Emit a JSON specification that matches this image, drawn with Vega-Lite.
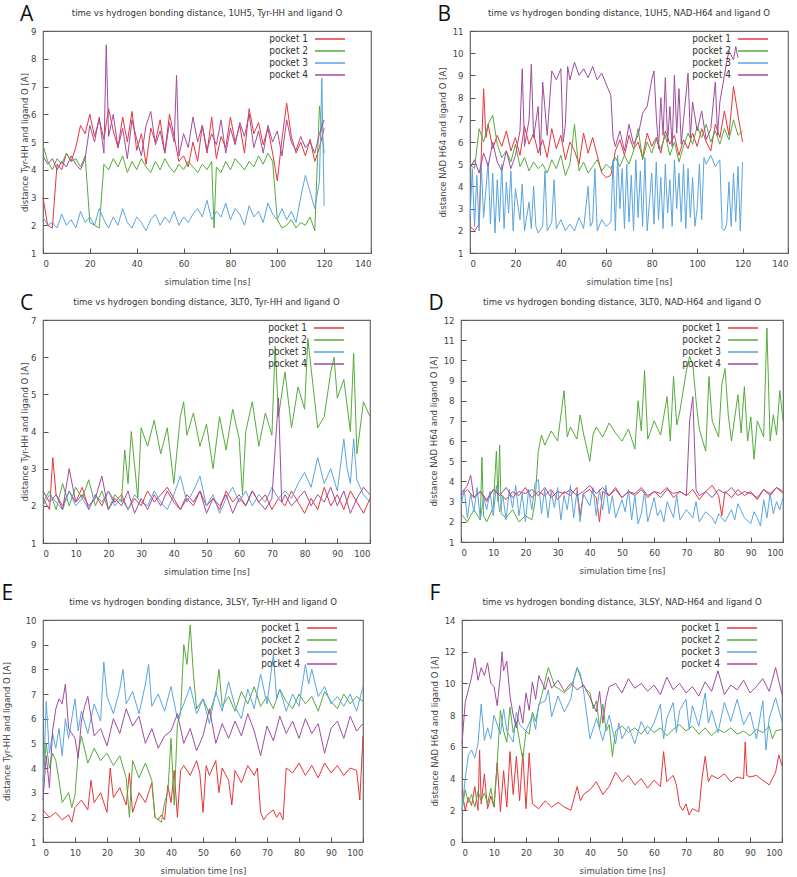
{
"$schema": "https://vega.github.io/schema/vega-lite/v6.json",
"background": "white",
"padding": {"left": 0, "top": 3, "right": 0, "bottom": 2},
"config": {
 "font": "DejaVu Sans Condensed, DejaVu Sans",
 "view": {"stroke": "#666666", "strokeWidth": 1.2},
 "axis": {"grid": false, "domain": false, "tickColor": "#555555", "tickSize": -5, "labelColor": "#444444", "labelFontSize": 9.5, "titleColor": "#444444", "titleFontSize": 9.5, "titleFontWeight": "normal"},
 "axisX": {"labelPadding": 10, "titlePadding": 9},
 "axisY": {"labelPadding": 12, "titlePadding": 5},
 "title": {"fontSize": 9.5, "fontWeight": "normal", "color": "#333333", "offset": 9},
 "legend": {"orient": "none", "padding": 0, "direction": "vertical", "symbolType": "M-3,0H3", "symbolSize": 100, "symbolStrokeWidth": 1.5, "labelFontSize": 10, "labelColor": "#333333", "rowPadding": 1}
},
"resolve": {"scale": {"color": "independent"}, "legend": {"color": "independent"}},
"spacing": 5,
"datasets": {
"A": [
{"s":1,"t":0,"v":3.0},{"s":1,"t":2,"v":2.0},{"s":1,"t":4,"v":1.9},{"s":1,"t":6,"v":4.2},{"s":1,"t":8,"v":4.0},{"s":1,"t":10,"v":4.6},{"s":1,"t":12,"v":4.3},{"s":1,"t":14,"v":4.8},{"s":1,"t":16,"v":5.6},{"s":1,"t":18,"v":5.3},{"s":1,"t":20,"v":6.0},{"s":1,"t":22,"v":5.2},{"s":1,"t":24,"v":5.8},{"s":1,"t":26,"v":5.1},{"s":1,"t":28,"v":6.2},{"s":1,"t":30,"v":5.4},{"s":1,"t":32,"v":4.8},{"s":1,"t":34,"v":5.9},{"s":1,"t":36,"v":5.0},{"s":1,"t":38,"v":6.1},{"s":1,"t":40,"v":4.7},{"s":1,"t":42,"v":5.3},{"s":1,"t":44,"v":4.2},{"s":1,"t":46,"v":5.5},{"s":1,"t":48,"v":5.0},{"s":1,"t":50,"v":5.8},{"s":1,"t":52,"v":4.6},{"s":1,"t":54,"v":6.0},{"s":1,"t":56,"v":5.2},{"s":1,"t":58,"v":4.3},{"s":1,"t":60,"v":4.5},{"s":1,"t":62,"v":4.1},{"s":1,"t":64,"v":5.0},{"s":1,"t":66,"v":4.3},{"s":1,"t":68,"v":5.6},{"s":1,"t":70,"v":4.6},{"s":1,"t":72,"v":5.9},{"s":1,"t":74,"v":4.4},{"s":1,"t":76,"v":5.2},{"s":1,"t":78,"v":4.8},{"s":1,"t":80,"v":5.9},{"s":1,"t":82,"v":5.0},{"s":1,"t":84,"v":5.6},{"s":1,"t":86,"v":4.6},{"s":1,"t":88,"v":6.2},{"s":1,"t":90,"v":5.3},{"s":1,"t":92,"v":5.7},{"s":1,"t":94,"v":4.9},{"s":1,"t":96,"v":5.5},{"s":1,"t":98,"v":4.6},{"s":1,"t":100,"v":3.6},{"s":1,"t":102,"v":5.1},{"s":1,"t":104,"v":6.4},{"s":1,"t":106,"v":5.2},{"s":1,"t":108,"v":4.6},{"s":1,"t":110,"v":5.0},{"s":1,"t":112,"v":4.5},{"s":1,"t":114,"v":5.1},{"s":1,"t":116,"v":4.3},{"s":1,"t":118,"v":4.8},{"s":1,"t":120,"v":5.5},
{"s":2,"t":0,"v":4.9},{"s":2,"t":2,"v":4.3},{"s":2,"t":4,"v":4.0},{"s":2,"t":6,"v":4.4},{"s":2,"t":8,"v":4.2},{"s":2,"t":10,"v":4.6},{"s":2,"t":12,"v":4.3},{"s":2,"t":14,"v":4.4},{"s":2,"t":16,"v":4.1},{"s":2,"t":18,"v":4.5},{"s":2,"t":20,"v":2.1},{"s":2,"t":22,"v":2.0},{"s":2,"t":24,"v":1.9},{"s":2,"t":26,"v":4.2},{"s":2,"t":28,"v":4.0},{"s":2,"t":30,"v":4.4},{"s":2,"t":32,"v":4.1},{"s":2,"t":34,"v":4.5},{"s":2,"t":36,"v":3.9},{"s":2,"t":38,"v":4.3},{"s":2,"t":40,"v":4.0},{"s":2,"t":42,"v":4.4},{"s":2,"t":44,"v":4.1},{"s":2,"t":46,"v":3.9},{"s":2,"t":48,"v":4.3},{"s":2,"t":50,"v":4.0},{"s":2,"t":52,"v":4.4},{"s":2,"t":54,"v":4.1},{"s":2,"t":56,"v":3.9},{"s":2,"t":58,"v":4.2},{"s":2,"t":60,"v":4.0},{"s":2,"t":62,"v":4.3},{"s":2,"t":64,"v":4.1},{"s":2,"t":66,"v":3.9},{"s":2,"t":68,"v":4.2},{"s":2,"t":70,"v":4.0},{"s":2,"t":72,"v":4.3},{"s":2,"t":73,"v":1.9},{"s":2,"t":74,"v":4.1},{"s":2,"t":76,"v":3.9},{"s":2,"t":78,"v":4.3},{"s":2,"t":80,"v":4.0},{"s":2,"t":82,"v":4.4},{"s":2,"t":84,"v":4.2},{"s":2,"t":86,"v":4.0},{"s":2,"t":88,"v":4.3},{"s":2,"t":90,"v":4.1},{"s":2,"t":92,"v":4.5},{"s":2,"t":94,"v":4.2},{"s":2,"t":96,"v":4.6},{"s":2,"t":98,"v":4.3},{"s":2,"t":100,"v":2.2},{"s":2,"t":102,"v":1.9},{"s":2,"t":104,"v":2.0},{"s":2,"t":106,"v":2.2},{"s":2,"t":108,"v":1.9},{"s":2,"t":110,"v":2.1},{"s":2,"t":112,"v":2.0},{"s":2,"t":114,"v":2.3},{"s":2,"t":116,"v":1.8},{"s":2,"t":118,"v":6.3},{"s":2,"t":120,"v":4.6},
{"s":3,"t":0,"v":2.3},{"s":3,"t":2,"v":2.0},{"s":3,"t":4,"v":2.1},{"s":3,"t":6,"v":1.9},{"s":3,"t":8,"v":2.4},{"s":3,"t":10,"v":2.0},{"s":3,"t":12,"v":2.2},{"s":3,"t":14,"v":1.9},{"s":3,"t":16,"v":2.5},{"s":3,"t":18,"v":2.1},{"s":3,"t":20,"v":2.3},{"s":3,"t":22,"v":2.0},{"s":3,"t":24,"v":2.6},{"s":3,"t":26,"v":2.2},{"s":3,"t":28,"v":1.9},{"s":3,"t":30,"v":2.3},{"s":3,"t":32,"v":2.0},{"s":3,"t":34,"v":2.6},{"s":3,"t":36,"v":2.1},{"s":3,"t":38,"v":1.9},{"s":3,"t":40,"v":2.3},{"s":3,"t":42,"v":2.1},{"s":3,"t":44,"v":1.8},{"s":3,"t":46,"v":2.2},{"s":3,"t":48,"v":2.4},{"s":3,"t":50,"v":2.0},{"s":3,"t":52,"v":2.3},{"s":3,"t":54,"v":2.1},{"s":3,"t":56,"v":2.5},{"s":3,"t":58,"v":2.0},{"s":3,"t":60,"v":2.3},{"s":3,"t":62,"v":2.1},{"s":3,"t":64,"v":2.4},{"s":3,"t":66,"v":2.6},{"s":3,"t":68,"v":2.3},{"s":3,"t":70,"v":2.9},{"s":3,"t":72,"v":2.2},{"s":3,"t":74,"v":2.5},{"s":3,"t":76,"v":2.3},{"s":3,"t":78,"v":2.8},{"s":3,"t":80,"v":2.2},{"s":3,"t":82,"v":2.6},{"s":3,"t":84,"v":2.4},{"s":3,"t":86,"v":2.0},{"s":3,"t":88,"v":2.7},{"s":3,"t":90,"v":2.3},{"s":3,"t":92,"v":2.5},{"s":3,"t":94,"v":2.1},{"s":3,"t":96,"v":2.8},{"s":3,"t":98,"v":2.4},{"s":3,"t":100,"v":2.2},{"s":3,"t":102,"v":2.6},{"s":3,"t":104,"v":2.2},{"s":3,"t":106,"v":2.5},{"s":3,"t":108,"v":2.1},{"s":3,"t":110,"v":3.0},{"s":3,"t":112,"v":3.8},{"s":3,"t":114,"v":3.2},{"s":3,"t":116,"v":2.6},{"s":3,"t":118,"v":3.6},{"s":3,"t":119,"v":7.3},{"s":3,"t":120,"v":2.7},
{"s":4,"t":0,"v":4.5},{"s":4,"t":2,"v":4.2},{"s":4,"t":4,"v":4.4},{"s":4,"t":6,"v":4.0},{"s":4,"t":8,"v":4.3},{"s":4,"t":10,"v":4.1},{"s":4,"t":12,"v":4.5},{"s":4,"t":14,"v":4.2},{"s":4,"t":16,"v":4.0},{"s":4,"t":18,"v":4.4},{"s":4,"t":20,"v":5.6},{"s":4,"t":22,"v":5.0},{"s":4,"t":24,"v":5.9},{"s":4,"t":26,"v":4.6},{"s":4,"t":27,"v":8.5},{"s":4,"t":28,"v":5.2},{"s":4,"t":30,"v":6.0},{"s":4,"t":32,"v":4.8},{"s":4,"t":34,"v":5.5},{"s":4,"t":36,"v":4.4},{"s":4,"t":38,"v":5.8},{"s":4,"t":40,"v":5.1},{"s":4,"t":42,"v":4.5},{"s":4,"t":44,"v":5.6},{"s":4,"t":46,"v":6.1},{"s":4,"t":48,"v":4.9},{"s":4,"t":50,"v":5.4},{"s":4,"t":52,"v":4.6},{"s":4,"t":54,"v":5.7},{"s":4,"t":56,"v":5.0},{"s":4,"t":57,"v":7.4},{"s":4,"t":58,"v":4.5},{"s":4,"t":60,"v":5.3},{"s":4,"t":62,"v":4.8},{"s":4,"t":64,"v":5.9},{"s":4,"t":66,"v":5.0},{"s":4,"t":68,"v":5.6},{"s":4,"t":70,"v":4.7},{"s":4,"t":72,"v":5.3},{"s":4,"t":74,"v":4.9},{"s":4,"t":76,"v":5.8},{"s":4,"t":78,"v":4.6},{"s":4,"t":80,"v":5.5},{"s":4,"t":82,"v":4.9},{"s":4,"t":84,"v":5.7},{"s":4,"t":86,"v":5.2},{"s":4,"t":88,"v":6.0},{"s":4,"t":90,"v":4.8},{"s":4,"t":92,"v":5.4},{"s":4,"t":94,"v":4.6},{"s":4,"t":96,"v":5.6},{"s":4,"t":98,"v":5.0},{"s":4,"t":100,"v":5.4},{"s":4,"t":102,"v":4.5},{"s":4,"t":104,"v":5.8},{"s":4,"t":106,"v":5.0},{"s":4,"t":108,"v":4.7},{"s":4,"t":110,"v":5.2},{"s":4,"t":112,"v":4.8},{"s":4,"t":114,"v":5.0},{"s":4,"t":116,"v":4.6},{"s":4,"t":118,"v":5.3},{"s":4,"t":120,"v":5.8}
],
"B": [
{"s":1,"t":0,"v":2.2},{"s":1,"t":2,"v":2.0},{"s":1,"t":4,"v":2.3},{"s":1,"t":5,"v":5.5},{"s":1,"t":6,"v":8.4},{"s":1,"t":7,"v":6.2},{"s":1,"t":8,"v":6.8},{"s":1,"t":10,"v":5.7},{"s":1,"t":12,"v":6.3},{"s":1,"t":14,"v":5.8},{"s":1,"t":16,"v":6.5},{"s":1,"t":18,"v":5.6},{"s":1,"t":20,"v":6.2},{"s":1,"t":22,"v":5.4},{"s":1,"t":24,"v":6.7},{"s":1,"t":26,"v":5.9},{"s":1,"t":28,"v":6.4},{"s":1,"t":30,"v":5.5},{"s":1,"t":32,"v":6.1},{"s":1,"t":34,"v":5.3},{"s":1,"t":36,"v":6.6},{"s":1,"t":38,"v":5.7},{"s":1,"t":40,"v":6.3},{"s":1,"t":42,"v":5.2},{"s":1,"t":44,"v":6.0},{"s":1,"t":46,"v":5.6},{"s":1,"t":48,"v":5.0},{"s":1,"t":50,"v":6.4},{"s":1,"t":52,"v":5.5},{"s":1,"t":54,"v":6.2},{"s":1,"t":56,"v":5.4},{"s":1,"t":58,"v":4.6},{"s":1,"t":60,"v":4.4},{"s":1,"t":62,"v":4.5},{"s":1,"t":64,"v":5.6},{"s":1,"t":66,"v":6.1},{"s":1,"t":68,"v":5.4},{"s":1,"t":70,"v":6.3},{"s":1,"t":72,"v":5.7},{"s":1,"t":74,"v":6.0},{"s":1,"t":76,"v":5.3},{"s":1,"t":78,"v":6.4},{"s":1,"t":80,"v":5.8},{"s":1,"t":82,"v":6.2},{"s":1,"t":84,"v":5.5},{"s":1,"t":86,"v":6.5},{"s":1,"t":88,"v":5.9},{"s":1,"t":90,"v":6.3},{"s":1,"t":92,"v":5.4},{"s":1,"t":94,"v":6.1},{"s":1,"t":96,"v":5.7},{"s":1,"t":98,"v":6.4},{"s":1,"t":100,"v":5.8},{"s":1,"t":102,"v":6.6},{"s":1,"t":104,"v":6.0},{"s":1,"t":106,"v":5.6},{"s":1,"t":108,"v":6.8},{"s":1,"t":110,"v":6.2},{"s":1,"t":112,"v":7.4},{"s":1,"t":114,"v":6.3},{"s":1,"t":116,"v":8.5},{"s":1,"t":118,"v":7.2},{"s":1,"t":120,"v":6.0},
{"s":2,"t":0,"v":5.0},{"s":2,"t":2,"v":4.8},{"s":2,"t":4,"v":6.6},{"s":2,"t":6,"v":6.0},{"s":2,"t":8,"v":6.8},{"s":2,"t":10,"v":7.2},{"s":2,"t":12,"v":5.9},{"s":2,"t":14,"v":5.3},{"s":2,"t":16,"v":5.6},{"s":2,"t":18,"v":5.1},{"s":2,"t":20,"v":5.9},{"s":2,"t":22,"v":4.9},{"s":2,"t":24,"v":5.3},{"s":2,"t":26,"v":4.7},{"s":2,"t":28,"v":5.1},{"s":2,"t":30,"v":4.8},{"s":2,"t":32,"v":5.0},{"s":2,"t":34,"v":4.6},{"s":2,"t":36,"v":5.2},{"s":2,"t":38,"v":4.8},{"s":2,"t":40,"v":5.4},{"s":2,"t":42,"v":4.5},{"s":2,"t":44,"v":5.0},{"s":2,"t":46,"v":6.8},{"s":2,"t":48,"v":4.7},{"s":2,"t":50,"v":5.1},{"s":2,"t":52,"v":4.6},{"s":2,"t":54,"v":4.9},{"s":2,"t":56,"v":5.2},{"s":2,"t":58,"v":4.7},{"s":2,"t":60,"v":5.0},{"s":2,"t":62,"v":4.8},{"s":2,"t":64,"v":5.3},{"s":2,"t":66,"v":4.9},{"s":2,"t":68,"v":5.4},{"s":2,"t":70,"v":5.0},{"s":2,"t":72,"v":5.6},{"s":2,"t":74,"v":6.6},{"s":2,"t":76,"v":5.2},{"s":2,"t":78,"v":6.0},{"s":2,"t":80,"v":5.5},{"s":2,"t":82,"v":6.1},{"s":2,"t":84,"v":5.7},{"s":2,"t":86,"v":6.3},{"s":2,"t":88,"v":5.4},{"s":2,"t":90,"v":6.0},{"s":2,"t":92,"v":5.1},{"s":2,"t":94,"v":5.8},{"s":2,"t":96,"v":6.4},{"s":2,"t":98,"v":5.9},{"s":2,"t":100,"v":6.7},{"s":2,"t":102,"v":6.2},{"s":2,"t":104,"v":6.8},{"s":2,"t":106,"v":6.0},{"s":2,"t":108,"v":6.5},{"s":2,"t":110,"v":5.9},{"s":2,"t":112,"v":6.6},{"s":2,"t":114,"v":6.1},{"s":2,"t":116,"v":7.0},{"s":2,"t":118,"v":6.3},{"s":2,"t":120,"v":6.5},
{"s":3,"t":0,"v":2.5},{"s":3,"t":1,"v":4.8},{"s":3,"t":2,"v":2.2},{"s":3,"t":3,"v":4.5},{"s":3,"t":4,"v":2.0},{"s":3,"t":5,"v":4.9},{"s":3,"t":6,"v":2.6},{"s":3,"t":8,"v":5.1},{"s":3,"t":9,"v":2.3},{"s":3,"t":10,"v":4.6},{"s":3,"t":11,"v":1.9},{"s":3,"t":12,"v":4.3},{"s":3,"t":13,"v":2.4},{"s":3,"t":14,"v":5.0},{"s":3,"t":15,"v":2.1},{"s":3,"t":16,"v":4.2},{"s":3,"t":17,"v":2.8},{"s":3,"t":18,"v":4.7},{"s":3,"t":19,"v":2.0},{"s":3,"t":20,"v":3.9},{"s":3,"t":22,"v":2.5},{"s":3,"t":23,"v":4.1},{"s":3,"t":24,"v":2.0},{"s":3,"t":26,"v":3.3},{"s":3,"t":27,"v":2.1},{"s":3,"t":28,"v":4.0},{"s":3,"t":29,"v":2.2},{"s":3,"t":30,"v":1.9},{"s":3,"t":32,"v":2.2},{"s":3,"t":33,"v":4.7},{"s":3,"t":34,"v":2.0},{"s":3,"t":36,"v":2.4},{"s":3,"t":37,"v":4.3},{"s":3,"t":38,"v":2.1},{"s":3,"t":40,"v":2.5},{"s":3,"t":42,"v":2.0},{"s":3,"t":44,"v":2.3},{"s":3,"t":46,"v":2.0},{"s":3,"t":48,"v":2.6},{"s":3,"t":50,"v":2.1},{"s":3,"t":52,"v":4.0},{"s":3,"t":53,"v":2.2},{"s":3,"t":54,"v":2.4},{"s":3,"t":55,"v":4.8},{"s":3,"t":56,"v":2.0},{"s":3,"t":58,"v":2.5},{"s":3,"t":60,"v":2.2},{"s":3,"t":62,"v":2.4},{"s":3,"t":63,"v":5.2},{"s":3,"t":64,"v":2.0},{"s":3,"t":65,"v":5.4},{"s":3,"t":66,"v":3.0},{"s":3,"t":67,"v":4.8},{"s":3,"t":68,"v":2.1},{"s":3,"t":69,"v":5.0},{"s":3,"t":70,"v":2.4},{"s":3,"t":71,"v":4.5},{"s":3,"t":72,"v":2.0},{"s":3,"t":73,"v":5.2},{"s":3,"t":74,"v":2.6},{"s":3,"t":75,"v":4.7},{"s":3,"t":76,"v":2.2},{"s":3,"t":77,"v":5.3},{"s":3,"t":78,"v":2.0},{"s":3,"t":80,"v":4.6},{"s":3,"t":81,"v":2.3},{"s":3,"t":82,"v":5.1},{"s":3,"t":83,"v":2.5},{"s":3,"t":84,"v":4.4},{"s":3,"t":85,"v":2.1},{"s":3,"t":86,"v":5.0},{"s":3,"t":87,"v":2.8},{"s":3,"t":88,"v":4.3},{"s":3,"t":89,"v":2.2},{"s":3,"t":90,"v":5.2},{"s":3,"t":91,"v":3.0},{"s":3,"t":92,"v":4.6},{"s":3,"t":93,"v":2.4},{"s":3,"t":94,"v":5.0},{"s":3,"t":95,"v":2.1},{"s":3,"t":96,"v":4.8},{"s":3,"t":97,"v":2.6},{"s":3,"t":98,"v":4.4},{"s":3,"t":99,"v":2.2},{"s":3,"t":100,"v":3.0},{"s":3,"t":101,"v":5.0},{"s":3,"t":102,"v":2.5},{"s":3,"t":103,"v":5.3},{"s":3,"t":104,"v":5.0},{"s":3,"t":106,"v":5.4},{"s":3,"t":108,"v":4.9},{"s":3,"t":110,"v":5.2},{"s":3,"t":111,"v":2.1},{"s":3,"t":112,"v":2.0},{"s":3,"t":113,"v":2.3},{"s":3,"t":114,"v":4.2},{"s":3,"t":115,"v":2.2},{"s":3,"t":116,"v":4.6},{"s":3,"t":117,"v":2.4},{"s":3,"t":118,"v":4.9},{"s":3,"t":119,"v":2.0},{"s":3,"t":120,"v":5.1},
{"s":4,"t":0,"v":4.8},{"s":4,"t":2,"v":5.2},{"s":4,"t":4,"v":4.6},{"s":4,"t":6,"v":5.5},{"s":4,"t":8,"v":4.9},{"s":4,"t":10,"v":6.0},{"s":4,"t":12,"v":5.1},{"s":4,"t":14,"v":4.7},{"s":4,"t":16,"v":5.6},{"s":4,"t":18,"v":4.8},{"s":4,"t":20,"v":5.4},{"s":4,"t":22,"v":6.5},{"s":4,"t":23,"v":9.3},{"s":4,"t":24,"v":5.8},{"s":4,"t":26,"v":7.0},{"s":4,"t":27,"v":9.5},{"s":4,"t":28,"v":6.2},{"s":4,"t":30,"v":7.6},{"s":4,"t":31,"v":5.4},{"s":4,"t":32,"v":8.7},{"s":4,"t":34,"v":6.3},{"s":4,"t":36,"v":9.2},{"s":4,"t":38,"v":8.8},{"s":4,"t":40,"v":9.3},{"s":4,"t":41,"v":6.0},{"s":4,"t":42,"v":6.8},{"s":4,"t":43,"v":9.4},{"s":4,"t":44,"v":8.8},{"s":4,"t":46,"v":9.6},{"s":4,"t":48,"v":9.0},{"s":4,"t":50,"v":9.3},{"s":4,"t":52,"v":8.9},{"s":4,"t":54,"v":9.4},{"s":4,"t":56,"v":8.8},{"s":4,"t":58,"v":9.1},{"s":4,"t":60,"v":8.6},{"s":4,"t":62,"v":8.1},{"s":4,"t":63,"v":6.2},{"s":4,"t":64,"v":5.8},{"s":4,"t":66,"v":6.5},{"s":4,"t":68,"v":5.6},{"s":4,"t":70,"v":6.8},{"s":4,"t":72,"v":5.9},{"s":4,"t":74,"v":6.3},{"s":4,"t":76,"v":7.3},{"s":4,"t":78,"v":7.6},{"s":4,"t":80,"v":8.8},{"s":4,"t":81,"v":9.2},{"s":4,"t":82,"v":7.2},{"s":4,"t":83,"v":5.7},{"s":4,"t":84,"v":8.0},{"s":4,"t":85,"v":6.3},{"s":4,"t":86,"v":8.9},{"s":4,"t":87,"v":6.0},{"s":4,"t":88,"v":7.6},{"s":4,"t":89,"v":5.8},{"s":4,"t":90,"v":9.0},{"s":4,"t":91,"v":6.4},{"s":4,"t":92,"v":8.4},{"s":4,"t":93,"v":5.9},{"s":4,"t":94,"v":7.0},{"s":4,"t":96,"v":9.1},{"s":4,"t":97,"v":6.2},{"s":4,"t":98,"v":7.8},{"s":4,"t":100,"v":6.5},{"s":4,"t":102,"v":7.4},{"s":4,"t":104,"v":6.1},{"s":4,"t":106,"v":6.6},{"s":4,"t":108,"v":8.7},{"s":4,"t":109,"v":6.3},{"s":4,"t":110,"v":7.8},{"s":4,"t":112,"v":9.0},{"s":4,"t":113,"v":9.6},{"s":4,"t":114,"v":10.1},{"s":4,"t":116,"v":9.7},{"s":4,"t":117,"v":10.3},{"s":4,"t":118,"v":9.8}
],
"C": [
{"s":1,"t":0,"v":2.2},{"s":1,"t":2,"v":1.9},{"s":1,"t":3,"v":3.3},{"s":1,"t":4,"v":2.3},{"s":1,"t":6,"v":2.0},{"s":1,"t":8,"v":2.4},{"s":1,"t":10,"v":2.1},{"s":1,"t":12,"v":2.5},{"s":1,"t":14,"v":1.9},{"s":1,"t":16,"v":2.3},{"s":1,"t":18,"v":2.0},{"s":1,"t":20,"v":2.4},{"s":1,"t":22,"v":2.1},{"s":1,"t":24,"v":2.3},{"s":1,"t":26,"v":1.9},{"s":1,"t":28,"v":2.2},{"s":1,"t":30,"v":2.0},{"s":1,"t":32,"v":2.4},{"s":1,"t":34,"v":2.1},{"s":1,"t":36,"v":2.3},{"s":1,"t":38,"v":2.5},{"s":1,"t":40,"v":2.2},{"s":1,"t":42,"v":1.9},{"s":1,"t":44,"v":2.3},{"s":1,"t":46,"v":2.1},{"s":1,"t":48,"v":2.4},{"s":1,"t":50,"v":2.0},{"s":1,"t":52,"v":2.2},{"s":1,"t":54,"v":1.9},{"s":1,"t":56,"v":2.4},{"s":1,"t":58,"v":2.1},{"s":1,"t":60,"v":2.3},{"s":1,"t":62,"v":2.0},{"s":1,"t":64,"v":2.4},{"s":1,"t":66,"v":2.1},{"s":1,"t":68,"v":2.3},{"s":1,"t":70,"v":1.9},{"s":1,"t":72,"v":2.2},{"s":1,"t":74,"v":2.0},{"s":1,"t":76,"v":2.4},{"s":1,"t":78,"v":2.1},{"s":1,"t":80,"v":1.8},{"s":1,"t":82,"v":2.2},{"s":1,"t":84,"v":1.9},{"s":1,"t":86,"v":2.5},{"s":1,"t":88,"v":2.0},{"s":1,"t":90,"v":2.3},{"s":1,"t":92,"v":1.9},{"s":1,"t":94,"v":2.4},{"s":1,"t":96,"v":2.1},{"s":1,"t":98,"v":1.8},{"s":1,"t":100,"v":2.2},
{"s":2,"t":0,"v":2.1},{"s":2,"t":2,"v":2.4},{"s":2,"t":4,"v":1.9},{"s":2,"t":6,"v":2.6},{"s":2,"t":8,"v":2.0},{"s":2,"t":10,"v":2.5},{"s":2,"t":12,"v":2.2},{"s":2,"t":14,"v":2.7},{"s":2,"t":16,"v":2.0},{"s":2,"t":18,"v":2.4},{"s":2,"t":20,"v":1.9},{"s":2,"t":22,"v":2.3},{"s":2,"t":24,"v":2.1},{"s":2,"t":25,"v":3.5},{"s":2,"t":26,"v":2.6},{"s":2,"t":27,"v":4.0},{"s":2,"t":28,"v":3.1},{"s":2,"t":29,"v":2.2},{"s":2,"t":30,"v":4.1},{"s":2,"t":32,"v":3.6},{"s":2,"t":34,"v":4.3},{"s":2,"t":36,"v":3.4},{"s":2,"t":38,"v":4.1},{"s":2,"t":40,"v":2.6},{"s":2,"t":42,"v":4.4},{"s":2,"t":43,"v":4.8},{"s":2,"t":44,"v":3.9},{"s":2,"t":46,"v":4.5},{"s":2,"t":48,"v":3.6},{"s":2,"t":50,"v":4.2},{"s":2,"t":52,"v":3.0},{"s":2,"t":54,"v":4.4},{"s":2,"t":56,"v":3.5},{"s":2,"t":58,"v":4.6},{"s":2,"t":60,"v":3.8},{"s":2,"t":61,"v":2.3},{"s":2,"t":62,"v":4.0},{"s":2,"t":64,"v":4.8},{"s":2,"t":66,"v":3.6},{"s":2,"t":68,"v":4.5},{"s":2,"t":70,"v":3.9},{"s":2,"t":71,"v":6.3},{"s":2,"t":72,"v":4.4},{"s":2,"t":74,"v":5.6},{"s":2,"t":76,"v":4.1},{"s":2,"t":78,"v":5.2},{"s":2,"t":80,"v":4.6},{"s":2,"t":81,"v":6.5},{"s":2,"t":82,"v":5.7},{"s":2,"t":84,"v":4.1},{"s":2,"t":86,"v":4.4},{"s":2,"t":88,"v":5.6},{"s":2,"t":89,"v":6.0},{"s":2,"t":90,"v":4.9},{"s":2,"t":92,"v":5.4},{"s":2,"t":94,"v":4.0},{"s":2,"t":95,"v":6.1},{"s":2,"t":96,"v":3.4},{"s":2,"t":98,"v":4.8},{"s":2,"t":100,"v":4.4},
{"s":3,"t":0,"v":2.0},{"s":3,"t":2,"v":2.3},{"s":3,"t":4,"v":2.1},{"s":3,"t":6,"v":1.9},{"s":3,"t":8,"v":2.4},{"s":3,"t":10,"v":2.0},{"s":3,"t":12,"v":2.2},{"s":3,"t":14,"v":1.9},{"s":3,"t":16,"v":2.3},{"s":3,"t":18,"v":2.1},{"s":3,"t":20,"v":2.4},{"s":3,"t":22,"v":2.0},{"s":3,"t":24,"v":2.2},{"s":3,"t":26,"v":1.9},{"s":3,"t":28,"v":2.3},{"s":3,"t":30,"v":2.1},{"s":3,"t":32,"v":2.0},{"s":3,"t":34,"v":2.4},{"s":3,"t":36,"v":2.1},{"s":3,"t":38,"v":1.9},{"s":3,"t":40,"v":2.3},{"s":3,"t":42,"v":2.8},{"s":3,"t":44,"v":2.1},{"s":3,"t":46,"v":2.4},{"s":3,"t":48,"v":2.8},{"s":3,"t":50,"v":2.0},{"s":3,"t":52,"v":2.3},{"s":3,"t":54,"v":1.8},{"s":3,"t":56,"v":2.2},{"s":3,"t":58,"v":2.5},{"s":3,"t":60,"v":2.1},{"s":3,"t":62,"v":2.4},{"s":3,"t":64,"v":2.0},{"s":3,"t":66,"v":2.3},{"s":3,"t":68,"v":2.1},{"s":3,"t":70,"v":2.5},{"s":3,"t":72,"v":2.2},{"s":3,"t":74,"v":2.4},{"s":3,"t":76,"v":2.2},{"s":3,"t":78,"v":2.6},{"s":3,"t":80,"v":2.9},{"s":3,"t":82,"v":2.5},{"s":3,"t":84,"v":3.3},{"s":3,"t":86,"v":2.6},{"s":3,"t":88,"v":3.0},{"s":3,"t":90,"v":2.4},{"s":3,"t":92,"v":3.8},{"s":3,"t":93,"v":3.0},{"s":3,"t":94,"v":2.6},{"s":3,"t":95,"v":3.8},{"s":3,"t":96,"v":2.7},{"s":3,"t":98,"v":2.3},{"s":3,"t":100,"v":2.1},
{"s":4,"t":0,"v":2.4},{"s":4,"t":2,"v":2.1},{"s":4,"t":4,"v":2.3},{"s":4,"t":6,"v":1.9},{"s":4,"t":8,"v":3.0},{"s":4,"t":10,"v":2.1},{"s":4,"t":12,"v":2.3},{"s":4,"t":14,"v":2.0},{"s":4,"t":16,"v":2.2},{"s":4,"t":18,"v":2.8},{"s":4,"t":20,"v":1.9},{"s":4,"t":22,"v":2.2},{"s":4,"t":24,"v":2.0},{"s":4,"t":26,"v":2.4},{"s":4,"t":28,"v":1.8},{"s":4,"t":30,"v":2.2},{"s":4,"t":32,"v":1.9},{"s":4,"t":34,"v":2.3},{"s":4,"t":36,"v":2.0},{"s":4,"t":38,"v":2.4},{"s":4,"t":40,"v":2.1},{"s":4,"t":42,"v":1.9},{"s":4,"t":44,"v":2.2},{"s":4,"t":46,"v":2.0},{"s":4,"t":48,"v":2.4},{"s":4,"t":50,"v":1.8},{"s":4,"t":52,"v":2.2},{"s":4,"t":54,"v":2.0},{"s":4,"t":56,"v":2.3},{"s":4,"t":58,"v":1.8},{"s":4,"t":60,"v":2.2},{"s":4,"t":62,"v":2.0},{"s":4,"t":64,"v":2.4},{"s":4,"t":66,"v":2.1},{"s":4,"t":68,"v":1.9},{"s":4,"t":70,"v":2.2},{"s":4,"t":72,"v":4.9},{"s":4,"t":73,"v":2.1},{"s":4,"t":74,"v":2.3},{"s":4,"t":76,"v":2.0},{"s":4,"t":78,"v":2.2},{"s":4,"t":80,"v":2.4},{"s":4,"t":82,"v":2.0},{"s":4,"t":84,"v":2.3},{"s":4,"t":86,"v":2.1},{"s":4,"t":88,"v":2.5},{"s":4,"t":90,"v":2.0},{"s":4,"t":92,"v":2.4},{"s":4,"t":94,"v":1.8},{"s":4,"t":96,"v":2.2},{"s":4,"t":98,"v":2.5},{"s":4,"t":100,"v":2.3}
],
"D": [
{"s":1,"t":0,"v":3.3},{"s":1,"t":2,"v":3.6},{"s":1,"t":4,"v":3.2},{"s":1,"t":6,"v":3.5},{"s":1,"t":8,"v":3.0},{"s":1,"t":10,"v":3.6},{"s":1,"t":12,"v":3.4},{"s":1,"t":14,"v":3.1},{"s":1,"t":16,"v":3.5},{"s":1,"t":18,"v":3.3},{"s":1,"t":20,"v":3.7},{"s":1,"t":22,"v":3.2},{"s":1,"t":24,"v":3.5},{"s":1,"t":26,"v":3.3},{"s":1,"t":28,"v":3.6},{"s":1,"t":30,"v":3.1},{"s":1,"t":32,"v":3.5},{"s":1,"t":34,"v":3.3},{"s":1,"t":36,"v":3.7},{"s":1,"t":37,"v":2.3},{"s":1,"t":38,"v":3.4},{"s":1,"t":40,"v":3.6},{"s":1,"t":42,"v":3.2},{"s":1,"t":43,"v":2.0},{"s":1,"t":44,"v":3.5},{"s":1,"t":46,"v":3.3},{"s":1,"t":48,"v":3.7},{"s":1,"t":50,"v":3.2},{"s":1,"t":52,"v":3.5},{"s":1,"t":54,"v":3.3},{"s":1,"t":56,"v":3.6},{"s":1,"t":58,"v":3.2},{"s":1,"t":60,"v":3.5},{"s":1,"t":62,"v":3.4},{"s":1,"t":64,"v":3.7},{"s":1,"t":66,"v":3.2},{"s":1,"t":68,"v":3.5},{"s":1,"t":70,"v":3.3},{"s":1,"t":72,"v":3.6},{"s":1,"t":74,"v":3.1},{"s":1,"t":76,"v":3.5},{"s":1,"t":78,"v":3.8},{"s":1,"t":80,"v":3.3},{"s":1,"t":81,"v":2.3},{"s":1,"t":82,"v":3.5},{"s":1,"t":84,"v":3.2},{"s":1,"t":86,"v":3.6},{"s":1,"t":88,"v":3.3},{"s":1,"t":90,"v":3.5},{"s":1,"t":92,"v":3.1},{"s":1,"t":94,"v":3.6},{"s":1,"t":96,"v":3.3},{"s":1,"t":98,"v":3.7},{"s":1,"t":100,"v":3.4},
{"s":2,"t":0,"v":2.4},{"s":2,"t":2,"v":2.0},{"s":2,"t":4,"v":2.6},{"s":2,"t":6,"v":2.1},{"s":2,"t":6.5,"v":5.2},{"s":2,"t":7,"v":2.3},{"s":2,"t":8,"v":2.0},{"s":2,"t":10,"v":2.7},{"s":2,"t":11,"v":5.5},{"s":2,"t":11.5,"v":3.0},{"s":2,"t":12,"v":5.8},{"s":2,"t":12.5,"v":2.4},{"s":2,"t":14,"v":2.2},{"s":2,"t":16,"v":2.6},{"s":2,"t":18,"v":2.0},{"s":2,"t":20,"v":2.3},{"s":2,"t":22,"v":2.1},{"s":2,"t":23,"v":3.0},{"s":2,"t":24,"v":5.5},{"s":2,"t":25,"v":6.3},{"s":2,"t":26,"v":5.8},{"s":2,"t":28,"v":6.5},{"s":2,"t":30,"v":6.0},{"s":2,"t":32,"v":8.5},{"s":2,"t":33,"v":6.2},{"s":2,"t":34,"v":6.7},{"s":2,"t":36,"v":6.1},{"s":2,"t":37,"v":7.3},{"s":2,"t":38,"v":6.4},{"s":2,"t":40,"v":5.0},{"s":2,"t":41,"v":6.3},{"s":2,"t":42,"v":6.7},{"s":2,"t":44,"v":6.2},{"s":2,"t":46,"v":6.9},{"s":2,"t":48,"v":6.4},{"s":2,"t":50,"v":6.0},{"s":2,"t":52,"v":6.6},{"s":2,"t":54,"v":5.6},{"s":2,"t":55,"v":8.0},{"s":2,"t":56,"v":6.5},{"s":2,"t":57,"v":9.5},{"s":2,"t":58,"v":6.1},{"s":2,"t":60,"v":7.0},{"s":2,"t":62,"v":6.3},{"s":2,"t":64,"v":8.2},{"s":2,"t":65,"v":6.0},{"s":2,"t":66,"v":9.2},{"s":2,"t":67,"v":6.8},{"s":2,"t":68,"v":7.5},{"s":2,"t":70,"v":9.5},{"s":2,"t":71,"v":10.2},{"s":2,"t":72,"v":9.8},{"s":2,"t":73,"v":8.0},{"s":2,"t":74,"v":6.6},{"s":2,"t":76,"v":5.5},{"s":2,"t":77,"v":9.2},{"s":2,"t":78,"v":7.0},{"s":2,"t":80,"v":6.2},{"s":2,"t":81,"v":8.8},{"s":2,"t":82,"v":9.6},{"s":2,"t":83,"v":7.3},{"s":2,"t":84,"v":6.0},{"s":2,"t":86,"v":8.3},{"s":2,"t":87,"v":6.4},{"s":2,"t":88,"v":8.7},{"s":2,"t":89,"v":6.0},{"s":2,"t":90,"v":7.2},{"s":2,"t":91,"v":5.1},{"s":2,"t":92,"v":7.0},{"s":2,"t":94,"v":6.2},{"s":2,"t":95,"v":11.6},{"s":2,"t":96,"v":6.0},{"s":2,"t":97,"v":7.3},{"s":2,"t":98,"v":6.3},{"s":2,"t":99,"v":8.5},{"s":2,"t":100,"v":7.0},
{"s":3,"t":0,"v":2.8},{"s":3,"t":1,"v":3.6},{"s":3,"t":2,"v":2.2},{"s":3,"t":3,"v":3.4},{"s":3,"t":4,"v":2.5},{"s":3,"t":5,"v":3.7},{"s":3,"t":6,"v":2.1},{"s":3,"t":7,"v":3.2},{"s":3,"t":8,"v":2.6},{"s":3,"t":9,"v":3.5},{"s":3,"t":10,"v":2.3},{"s":3,"t":11,"v":3.8},{"s":3,"t":12,"v":2.5},{"s":3,"t":13,"v":3.3},{"s":3,"t":14,"v":2.1},{"s":3,"t":15,"v":3.6},{"s":3,"t":16,"v":2.7},{"s":3,"t":17,"v":3.8},{"s":3,"t":18,"v":2.3},{"s":3,"t":19,"v":3.4},{"s":3,"t":20,"v":2.0},{"s":3,"t":21,"v":3.6},{"s":3,"t":22,"v":2.6},{"s":3,"t":23,"v":3.9},{"s":3,"t":24,"v":4.1},{"s":3,"t":25,"v":2.4},{"s":3,"t":26,"v":3.6},{"s":3,"t":27,"v":2.2},{"s":3,"t":28,"v":3.5},{"s":3,"t":29,"v":2.7},{"s":3,"t":30,"v":3.7},{"s":3,"t":31,"v":2.1},{"s":3,"t":32,"v":3.3},{"s":3,"t":33,"v":2.6},{"s":3,"t":34,"v":3.8},{"s":3,"t":35,"v":2.2},{"s":3,"t":36,"v":3.5},{"s":3,"t":37,"v":2.0},{"s":3,"t":38,"v":3.4},{"s":3,"t":40,"v":2.8},{"s":3,"t":41,"v":3.7},{"s":3,"t":42,"v":2.3},{"s":3,"t":43,"v":3.6},{"s":3,"t":44,"v":2.6},{"s":3,"t":45,"v":3.8},{"s":3,"t":46,"v":2.4},{"s":3,"t":47,"v":3.3},{"s":3,"t":48,"v":2.2},{"s":3,"t":50,"v":3.1},{"s":3,"t":51,"v":2.5},{"s":3,"t":52,"v":3.6},{"s":3,"t":53,"v":2.1},{"s":3,"t":54,"v":3.3},{"s":3,"t":55,"v":1.9},{"s":3,"t":56,"v":2.4},{"s":3,"t":57,"v":3.5},{"s":3,"t":58,"v":2.0},{"s":3,"t":60,"v":3.2},{"s":3,"t":61,"v":2.3},{"s":3,"t":62,"v":2.6},{"s":3,"t":63,"v":2.0},{"s":3,"t":64,"v":3.0},{"s":3,"t":66,"v":2.2},{"s":3,"t":67,"v":3.3},{"s":3,"t":68,"v":2.1},{"s":3,"t":70,"v":2.6},{"s":3,"t":72,"v":2.2},{"s":3,"t":73,"v":3.0},{"s":3,"t":74,"v":2.0},{"s":3,"t":76,"v":2.5},{"s":3,"t":78,"v":2.2},{"s":3,"t":79,"v":1.9},{"s":3,"t":80,"v":2.4},{"s":3,"t":82,"v":2.0},{"s":3,"t":84,"v":2.6},{"s":3,"t":85,"v":2.1},{"s":3,"t":86,"v":2.9},{"s":3,"t":88,"v":2.2},{"s":3,"t":90,"v":1.9},{"s":3,"t":91,"v":2.5},{"s":3,"t":92,"v":2.2},{"s":3,"t":93,"v":1.8},{"s":3,"t":94,"v":3.1},{"s":3,"t":95,"v":2.2},{"s":3,"t":96,"v":3.4},{"s":3,"t":97,"v":2.4},{"s":3,"t":98,"v":3.0},{"s":3,"t":99,"v":2.6},{"s":3,"t":100,"v":3.2},
{"s":4,"t":0,"v":3.4},{"s":4,"t":2,"v":3.8},{"s":4,"t":3,"v":4.3},{"s":4,"t":4,"v":3.2},{"s":4,"t":6,"v":3.5},{"s":4,"t":8,"v":3.1},{"s":4,"t":10,"v":3.6},{"s":4,"t":12,"v":3.3},{"s":4,"t":14,"v":3.7},{"s":4,"t":16,"v":3.2},{"s":4,"t":18,"v":3.5},{"s":4,"t":20,"v":3.4},{"s":4,"t":22,"v":3.6},{"s":4,"t":24,"v":3.3},{"s":4,"t":26,"v":3.7},{"s":4,"t":28,"v":3.2},{"s":4,"t":30,"v":3.5},{"s":4,"t":32,"v":3.4},{"s":4,"t":34,"v":3.6},{"s":4,"t":36,"v":3.3},{"s":4,"t":38,"v":3.5},{"s":4,"t":40,"v":3.8},{"s":4,"t":42,"v":3.4},{"s":4,"t":44,"v":3.7},{"s":4,"t":46,"v":3.3},{"s":4,"t":48,"v":3.6},{"s":4,"t":50,"v":3.2},{"s":4,"t":52,"v":3.5},{"s":4,"t":54,"v":3.4},{"s":4,"t":56,"v":3.7},{"s":4,"t":58,"v":3.3},{"s":4,"t":60,"v":3.5},{"s":4,"t":62,"v":3.2},{"s":4,"t":64,"v":3.6},{"s":4,"t":66,"v":3.4},{"s":4,"t":68,"v":3.5},{"s":4,"t":70,"v":3.3},{"s":4,"t":71,"v":7.0},{"s":4,"t":72,"v":8.2},{"s":4,"t":73,"v":3.6},{"s":4,"t":74,"v":3.3},{"s":4,"t":76,"v":3.5},{"s":4,"t":78,"v":3.2},{"s":4,"t":80,"v":3.6},{"s":4,"t":82,"v":3.4},{"s":4,"t":84,"v":3.7},{"s":4,"t":86,"v":3.3},{"s":4,"t":88,"v":3.5},{"s":4,"t":90,"v":3.4},{"s":4,"t":92,"v":3.2},{"s":4,"t":94,"v":3.6},{"s":4,"t":96,"v":3.4},{"s":4,"t":98,"v":3.7},{"s":4,"t":100,"v":3.5}
],
"E": [
{"s":1,"t":0,"v":2.3},{"s":1,"t":2,"v":2.0},{"s":1,"t":4,"v":2.2},{"s":1,"t":6,"v":1.9},{"s":1,"t":8,"v":2.1},{"s":1,"t":9,"v":1.8},{"s":1,"t":10,"v":2.4},{"s":1,"t":12,"v":2.7},{"s":1,"t":14,"v":2.3},{"s":1,"t":15,"v":3.5},{"s":1,"t":16,"v":2.6},{"s":1,"t":18,"v":3.0},{"s":1,"t":20,"v":2.2},{"s":1,"t":21,"v":4.0},{"s":1,"t":22,"v":2.8},{"s":1,"t":24,"v":3.2},{"s":1,"t":26,"v":2.5},{"s":1,"t":27,"v":3.8},{"s":1,"t":28,"v":2.2},{"s":1,"t":30,"v":3.0},{"s":1,"t":32,"v":2.6},{"s":1,"t":34,"v":3.4},{"s":1,"t":35,"v":2.0},{"s":1,"t":36,"v":1.9},{"s":1,"t":37,"v":2.1},{"s":1,"t":38,"v":1.9},{"s":1,"t":39,"v":3.3},{"s":1,"t":40,"v":2.6},{"s":1,"t":41,"v":3.9},{"s":1,"t":42,"v":2.0},{"s":1,"t":43,"v":3.9},{"s":1,"t":44,"v":4.1},{"s":1,"t":46,"v":3.7},{"s":1,"t":48,"v":4.3},{"s":1,"t":49,"v":3.8},{"s":1,"t":50,"v":2.2},{"s":1,"t":51,"v":4.1},{"s":1,"t":52,"v":3.7},{"s":1,"t":54,"v":4.3},{"s":1,"t":55,"v":3.0},{"s":1,"t":56,"v":4.0},{"s":1,"t":58,"v":3.5},{"s":1,"t":59,"v":2.5},{"s":1,"t":60,"v":3.9},{"s":1,"t":62,"v":3.4},{"s":1,"t":64,"v":4.1},{"s":1,"t":66,"v":3.7},{"s":1,"t":67,"v":4.0},{"s":1,"t":68,"v":2.2},{"s":1,"t":69,"v":1.9},{"s":1,"t":70,"v":2.1},{"s":1,"t":72,"v":2.3},{"s":1,"t":73,"v":2.0},{"s":1,"t":74,"v":2.2},{"s":1,"t":75,"v":1.9},{"s":1,"t":76,"v":4.0},{"s":1,"t":78,"v":3.8},{"s":1,"t":80,"v":4.2},{"s":1,"t":82,"v":3.7},{"s":1,"t":84,"v":4.1},{"s":1,"t":86,"v":3.6},{"s":1,"t":88,"v":4.2},{"s":1,"t":90,"v":3.8},{"s":1,"t":92,"v":4.1},{"s":1,"t":94,"v":3.7},{"s":1,"t":96,"v":4.0},{"s":1,"t":98,"v":3.9},{"s":1,"t":99,"v":2.7},{"s":1,"t":100,"v":5.3},
{"s":2,"t":0,"v":3.5},{"s":2,"t":1,"v":5.0},{"s":2,"t":2,"v":4.0},{"s":2,"t":3,"v":4.6},{"s":2,"t":4,"v":4.3},{"s":2,"t":5,"v":3.5},{"s":2,"t":6,"v":2.6},{"s":2,"t":8,"v":3.0},{"s":2,"t":9,"v":2.4},{"s":2,"t":10,"v":2.9},{"s":2,"t":11,"v":4.6},{"s":2,"t":12,"v":5.3},{"s":2,"t":14,"v":4.2},{"s":2,"t":16,"v":4.8},{"s":2,"t":18,"v":4.3},{"s":2,"t":20,"v":4.6},{"s":2,"t":22,"v":4.1},{"s":2,"t":24,"v":4.5},{"s":2,"t":26,"v":3.6},{"s":2,"t":27,"v":2.0},{"s":2,"t":28,"v":4.3},{"s":2,"t":30,"v":3.6},{"s":2,"t":32,"v":4.2},{"s":2,"t":34,"v":3.5},{"s":2,"t":35,"v":2.0},{"s":2,"t":36,"v":1.9},{"s":2,"t":37,"v":1.8},{"s":2,"t":38,"v":2.6},{"s":2,"t":39,"v":3.0},{"s":2,"t":40,"v":5.2},{"s":2,"t":41,"v":2.5},{"s":2,"t":42,"v":5.8},{"s":2,"t":43,"v":6.2},{"s":2,"t":44,"v":9.0},{"s":2,"t":45,"v":8.2},{"s":2,"t":46,"v":9.8},{"s":2,"t":47,"v":7.8},{"s":2,"t":48,"v":6.4},{"s":2,"t":50,"v":6.8},{"s":2,"t":52,"v":6.2},{"s":2,"t":54,"v":7.0},{"s":2,"t":55,"v":8.0},{"s":2,"t":56,"v":6.5},{"s":2,"t":58,"v":6.9},{"s":2,"t":60,"v":6.3},{"s":2,"t":62,"v":7.1},{"s":2,"t":64,"v":6.6},{"s":2,"t":66,"v":7.3},{"s":2,"t":68,"v":6.5},{"s":2,"t":70,"v":6.9},{"s":2,"t":72,"v":6.4},{"s":2,"t":74,"v":7.2},{"s":2,"t":76,"v":6.7},{"s":2,"t":78,"v":6.4},{"s":2,"t":80,"v":7.0},{"s":2,"t":82,"v":6.6},{"s":2,"t":84,"v":6.9},{"s":2,"t":86,"v":6.3},{"s":2,"t":88,"v":7.1},{"s":2,"t":90,"v":6.7},{"s":2,"t":92,"v":6.4},{"s":2,"t":94,"v":7.0},{"s":2,"t":96,"v":6.6},{"s":2,"t":98,"v":6.9},{"s":2,"t":100,"v":6.7},
{"s":3,"t":0,"v":3.0},{"s":3,"t":1,"v":6.7},{"s":3,"t":2,"v":4.6},{"s":3,"t":3,"v":5.4},{"s":3,"t":4,"v":4.8},{"s":3,"t":5,"v":5.6},{"s":3,"t":6,"v":4.5},{"s":3,"t":7,"v":6.0},{"s":3,"t":8,"v":5.2},{"s":3,"t":10,"v":6.8},{"s":3,"t":11,"v":5.5},{"s":3,"t":12,"v":6.3},{"s":3,"t":14,"v":5.4},{"s":3,"t":16,"v":6.6},{"s":3,"t":18,"v":5.9},{"s":3,"t":19,"v":8.3},{"s":3,"t":20,"v":6.9},{"s":3,"t":22,"v":6.2},{"s":3,"t":24,"v":7.2},{"s":3,"t":25,"v":8.0},{"s":3,"t":26,"v":6.6},{"s":3,"t":28,"v":7.1},{"s":3,"t":30,"v":6.2},{"s":3,"t":32,"v":7.4},{"s":3,"t":33,"v":8.2},{"s":3,"t":34,"v":6.5},{"s":3,"t":36,"v":7.0},{"s":3,"t":38,"v":6.3},{"s":3,"t":40,"v":7.3},{"s":3,"t":42,"v":6.0},{"s":3,"t":44,"v":6.6},{"s":3,"t":46,"v":7.3},{"s":3,"t":48,"v":6.2},{"s":3,"t":50,"v":6.8},{"s":3,"t":52,"v":5.8},{"s":3,"t":54,"v":7.1},{"s":3,"t":56,"v":6.3},{"s":3,"t":58,"v":7.5},{"s":3,"t":60,"v":6.5},{"s":3,"t":62,"v":6.0},{"s":3,"t":64,"v":7.2},{"s":3,"t":66,"v":6.4},{"s":3,"t":68,"v":7.8},{"s":3,"t":70,"v":6.6},{"s":3,"t":72,"v":8.6},{"s":3,"t":73,"v":6.8},{"s":3,"t":74,"v":7.2},{"s":3,"t":76,"v":6.3},{"s":3,"t":78,"v":7.0},{"s":3,"t":80,"v":6.5},{"s":3,"t":82,"v":8.2},{"s":3,"t":83,"v":7.4},{"s":3,"t":84,"v":8.0},{"s":3,"t":86,"v":6.9},{"s":3,"t":88,"v":7.3},{"s":3,"t":90,"v":6.6},{"s":3,"t":92,"v":6.9},{"s":3,"t":94,"v":6.5},{"s":3,"t":96,"v":7.0},{"s":3,"t":98,"v":6.3},{"s":3,"t":100,"v":7.3},
{"s":4,"t":0,"v":2.7},{"s":4,"t":1,"v":4.5},{"s":4,"t":2,"v":3.2},{"s":4,"t":3,"v":5.5},{"s":4,"t":4,"v":6.4},{"s":4,"t":5,"v":6.8},{"s":4,"t":6,"v":6.6},{"s":4,"t":7,"v":7.4},{"s":4,"t":8,"v":5.6},{"s":4,"t":10,"v":5.2},{"s":4,"t":11,"v":4.4},{"s":4,"t":12,"v":5.9},{"s":4,"t":13,"v":6.5},{"s":4,"t":14,"v":6.9},{"s":4,"t":16,"v":5.3},{"s":4,"t":18,"v":5.6},{"s":4,"t":20,"v":4.9},{"s":4,"t":22,"v":6.0},{"s":4,"t":24,"v":5.4},{"s":4,"t":26,"v":6.4},{"s":4,"t":28,"v":5.7},{"s":4,"t":30,"v":6.1},{"s":4,"t":32,"v":5.0},{"s":4,"t":34,"v":5.6},{"s":4,"t":36,"v":4.8},{"s":4,"t":38,"v":5.3},{"s":4,"t":40,"v":5.5},{"s":4,"t":42,"v":6.2},{"s":4,"t":44,"v":5.0},{"s":4,"t":46,"v":5.6},{"s":4,"t":48,"v":4.7},{"s":4,"t":50,"v":5.3},{"s":4,"t":52,"v":6.4},{"s":4,"t":54,"v":5.0},{"s":4,"t":56,"v":5.8},{"s":4,"t":58,"v":5.2},{"s":4,"t":60,"v":5.9},{"s":4,"t":62,"v":5.3},{"s":4,"t":64,"v":6.2},{"s":4,"t":66,"v":5.5},{"s":4,"t":68,"v":4.5},{"s":4,"t":70,"v":5.7},{"s":4,"t":72,"v":5.1},{"s":4,"t":74,"v":6.1},{"s":4,"t":76,"v":5.4},{"s":4,"t":78,"v":5.9},{"s":4,"t":80,"v":5.2},{"s":4,"t":82,"v":6.0},{"s":4,"t":84,"v":5.4},{"s":4,"t":86,"v":5.8},{"s":4,"t":88,"v":4.6},{"s":4,"t":90,"v":5.6},{"s":4,"t":92,"v":5.9},{"s":4,"t":94,"v":5.2},{"s":4,"t":96,"v":6.1},{"s":4,"t":98,"v":5.5},{"s":4,"t":100,"v":5.8}
],
"F": [
{"s":1,"t":0,"v":3.2},{"s":1,"t":1,"v":2.0},{"s":1,"t":2,"v":2.8},{"s":1,"t":3,"v":2.3},{"s":1,"t":4,"v":3.5},{"s":1,"t":5,"v":2.0},{"s":1,"t":5.5,"v":5.8},{"s":1,"t":6,"v":2.4},{"s":1,"t":7,"v":4.3},{"s":1,"t":8,"v":2.1},{"s":1,"t":9,"v":2.9},{"s":1,"t":10,"v":2.2},{"s":1,"t":11,"v":5.0},{"s":1,"t":12,"v":1.9},{"s":1,"t":13,"v":4.5},{"s":1,"t":14,"v":2.2},{"s":1,"t":15,"v":5.7},{"s":1,"t":16,"v":3.0},{"s":1,"t":17,"v":5.4},{"s":1,"t":18,"v":2.6},{"s":1,"t":19,"v":5.6},{"s":1,"t":20,"v":2.1},{"s":1,"t":21,"v":5.6},{"s":1,"t":22,"v":2.4},{"s":1,"t":24,"v":2.1},{"s":1,"t":26,"v":2.6},{"s":1,"t":28,"v":2.2},{"s":1,"t":30,"v":2.5},{"s":1,"t":32,"v":2.2},{"s":1,"t":34,"v":2.0},{"s":1,"t":36,"v":3.5},{"s":1,"t":37,"v":2.6},{"s":1,"t":38,"v":3.0},{"s":1,"t":40,"v":3.3},{"s":1,"t":42,"v":3.8},{"s":1,"t":44,"v":3.0},{"s":1,"t":46,"v":3.5},{"s":1,"t":48,"v":4.4},{"s":1,"t":50,"v":3.8},{"s":1,"t":52,"v":4.2},{"s":1,"t":54,"v":3.6},{"s":1,"t":56,"v":4.0},{"s":1,"t":58,"v":3.4},{"s":1,"t":60,"v":3.9},{"s":1,"t":62,"v":3.5},{"s":1,"t":63,"v":5.7},{"s":1,"t":64,"v":3.8},{"s":1,"t":66,"v":4.2},{"s":1,"t":67,"v":3.6},{"s":1,"t":68,"v":2.3},{"s":1,"t":69,"v":2.0},{"s":1,"t":70,"v":2.4},{"s":1,"t":71,"v":1.7},{"s":1,"t":72,"v":2.1},{"s":1,"t":74,"v":1.9},{"s":1,"t":75,"v":4.0},{"s":1,"t":76,"v":5.4},{"s":1,"t":77,"v":3.8},{"s":1,"t":78,"v":4.2},{"s":1,"t":80,"v":4.0},{"s":1,"t":82,"v":4.3},{"s":1,"t":84,"v":3.8},{"s":1,"t":86,"v":4.1},{"s":1,"t":88,"v":4.0},{"s":1,"t":88.5,"v":6.3},{"s":1,"t":89,"v":4.2},{"s":1,"t":90,"v":4.1},{"s":1,"t":92,"v":4.2},{"s":1,"t":94,"v":3.9},{"s":1,"t":96,"v":3.6},{"s":1,"t":98,"v":4.4},{"s":1,"t":99,"v":5.5},{"s":1,"t":100,"v":4.8},
{"s":2,"t":0,"v":2.0},{"s":2,"t":1,"v":3.3},{"s":2,"t":2,"v":2.5},{"s":2,"t":3,"v":3.0},{"s":2,"t":4,"v":2.2},{"s":2,"t":5,"v":3.2},{"s":2,"t":6,"v":2.6},{"s":2,"t":7,"v":3.1},{"s":2,"t":8,"v":2.4},{"s":2,"t":9,"v":3.4},{"s":2,"t":10,"v":2.2},{"s":2,"t":11,"v":5.0},{"s":2,"t":12,"v":8.3},{"s":2,"t":13,"v":7.0},{"s":2,"t":14,"v":6.3},{"s":2,"t":15,"v":8.5},{"s":2,"t":16,"v":6.9},{"s":2,"t":17,"v":7.6},{"s":2,"t":18,"v":6.3},{"s":2,"t":19,"v":5.2},{"s":2,"t":20,"v":7.0},{"s":2,"t":21,"v":6.8},{"s":2,"t":22,"v":8.2},{"s":2,"t":23,"v":7.6},{"s":2,"t":24,"v":8.6},{"s":2,"t":25,"v":9.3},{"s":2,"t":26,"v":10.2},{"s":2,"t":27,"v":11.0},{"s":2,"t":28,"v":10.4},{"s":2,"t":29,"v":9.8},{"s":2,"t":30,"v":9.7},{"s":2,"t":32,"v":9.4},{"s":2,"t":34,"v":9.8},{"s":2,"t":35,"v":10.3},{"s":2,"t":36,"v":11.0},{"s":2,"t":37,"v":10.4},{"s":2,"t":38,"v":9.8},{"s":2,"t":40,"v":9.4},{"s":2,"t":41,"v":8.4},{"s":2,"t":42,"v":8.9},{"s":2,"t":43,"v":7.2},{"s":2,"t":44,"v":8.7},{"s":2,"t":45,"v":7.0},{"s":2,"t":46,"v":7.4},{"s":2,"t":47,"v":5.4},{"s":2,"t":48,"v":7.0},{"s":2,"t":50,"v":7.3},{"s":2,"t":52,"v":6.9},{"s":2,"t":54,"v":7.2},{"s":2,"t":56,"v":6.8},{"s":2,"t":58,"v":7.3},{"s":2,"t":60,"v":6.9},{"s":2,"t":62,"v":7.2},{"s":2,"t":64,"v":6.7},{"s":2,"t":66,"v":7.1},{"s":2,"t":68,"v":7.4},{"s":2,"t":70,"v":7.0},{"s":2,"t":72,"v":7.3},{"s":2,"t":74,"v":6.8},{"s":2,"t":76,"v":7.2},{"s":2,"t":78,"v":6.7},{"s":2,"t":80,"v":7.1},{"s":2,"t":82,"v":6.9},{"s":2,"t":84,"v":7.2},{"s":2,"t":86,"v":6.8},{"s":2,"t":88,"v":7.0},{"s":2,"t":90,"v":6.7},{"s":2,"t":92,"v":7.1},{"s":2,"t":94,"v":6.9},{"s":2,"t":96,"v":7.3},{"s":2,"t":97,"v":6.5},{"s":2,"t":98,"v":7.0},{"s":2,"t":100,"v":7.1},
{"s":3,"t":0,"v":2.0},{"s":3,"t":1,"v":4.0},{"s":3,"t":2,"v":5.5},{"s":3,"t":3,"v":5.8},{"s":3,"t":4,"v":5.3},{"s":3,"t":5,"v":6.2},{"s":3,"t":6,"v":8.7},{"s":3,"t":7,"v":6.4},{"s":3,"t":8,"v":7.2},{"s":3,"t":9,"v":6.5},{"s":3,"t":10,"v":8.0},{"s":3,"t":12,"v":6.8},{"s":3,"t":13,"v":8.4},{"s":3,"t":14,"v":7.0},{"s":3,"t":16,"v":6.3},{"s":3,"t":17,"v":8.2},{"s":3,"t":18,"v":7.4},{"s":3,"t":20,"v":7.0},{"s":3,"t":22,"v":8.0},{"s":3,"t":23,"v":7.1},{"s":3,"t":24,"v":8.7},{"s":3,"t":26,"v":8.9},{"s":3,"t":27,"v":9.6},{"s":3,"t":28,"v":7.9},{"s":3,"t":30,"v":9.2},{"s":3,"t":32,"v":8.2},{"s":3,"t":34,"v":9.0},{"s":3,"t":35,"v":10.3},{"s":3,"t":36,"v":11.0},{"s":3,"t":37,"v":10.6},{"s":3,"t":38,"v":9.5},{"s":3,"t":39,"v":8.0},{"s":3,"t":40,"v":6.5},{"s":3,"t":42,"v":7.8},{"s":3,"t":44,"v":6.4},{"s":3,"t":46,"v":8.0},{"s":3,"t":48,"v":6.2},{"s":3,"t":49,"v":7.5},{"s":3,"t":50,"v":6.5},{"s":3,"t":52,"v":7.3},{"s":3,"t":54,"v":6.2},{"s":3,"t":56,"v":7.6},{"s":3,"t":58,"v":6.8},{"s":3,"t":60,"v":7.5},{"s":3,"t":62,"v":8.7},{"s":3,"t":63,"v":6.5},{"s":3,"t":64,"v":7.8},{"s":3,"t":66,"v":8.8},{"s":3,"t":67,"v":6.9},{"s":3,"t":68,"v":8.3},{"s":3,"t":70,"v":9.0},{"s":3,"t":71,"v":7.1},{"s":3,"t":72,"v":8.6},{"s":3,"t":74,"v":7.3},{"s":3,"t":76,"v":9.4},{"s":3,"t":77,"v":7.5},{"s":3,"t":78,"v":8.3},{"s":3,"t":80,"v":6.9},{"s":3,"t":82,"v":8.8},{"s":3,"t":84,"v":7.6},{"s":3,"t":86,"v":9.0},{"s":3,"t":88,"v":7.4},{"s":3,"t":90,"v":8.2},{"s":3,"t":92,"v":6.5},{"s":3,"t":94,"v":8.9},{"s":3,"t":95,"v":5.8},{"s":3,"t":96,"v":7.8},{"s":3,"t":98,"v":9.1},{"s":3,"t":100,"v":7.6},
{"s":4,"t":0,"v":6.2},{"s":4,"t":1,"v":8.8},{"s":4,"t":2,"v":9.6},{"s":4,"t":3,"v":10.4},{"s":4,"t":4,"v":11.6},{"s":4,"t":5,"v":10.2},{"s":4,"t":6,"v":11.0},{"s":4,"t":7,"v":10.5},{"s":4,"t":8,"v":11.3},{"s":4,"t":9,"v":10.0},{"s":4,"t":10,"v":9.8},{"s":4,"t":11,"v":8.6},{"s":4,"t":12,"v":10.5},{"s":4,"t":12.5,"v":12.0},{"s":4,"t":13,"v":10.8},{"s":4,"t":14,"v":11.4},{"s":4,"t":15,"v":9.2},{"s":4,"t":16,"v":8.0},{"s":4,"t":17,"v":7.2},{"s":4,"t":18,"v":8.6},{"s":4,"t":19,"v":7.5},{"s":4,"t":20,"v":9.4},{"s":4,"t":21,"v":8.3},{"s":4,"t":22,"v":10.1},{"s":4,"t":23,"v":9.0},{"s":4,"t":24,"v":10.5},{"s":4,"t":26,"v":9.6},{"s":4,"t":27,"v":10.4},{"s":4,"t":28,"v":9.7},{"s":4,"t":30,"v":10.2},{"s":4,"t":32,"v":9.5},{"s":4,"t":34,"v":10.0},{"s":4,"t":36,"v":9.6},{"s":4,"t":38,"v":9.9},{"s":4,"t":40,"v":9.1},{"s":4,"t":42,"v":8.2},{"s":4,"t":43,"v":9.5},{"s":4,"t":44,"v":7.5},{"s":4,"t":45,"v":9.0},{"s":4,"t":46,"v":9.8},{"s":4,"t":48,"v":10.0},{"s":4,"t":50,"v":9.4},{"s":4,"t":52,"v":10.3},{"s":4,"t":54,"v":9.7},{"s":4,"t":56,"v":10.0},{"s":4,"t":58,"v":9.5},{"s":4,"t":60,"v":9.9},{"s":4,"t":62,"v":9.3},{"s":4,"t":64,"v":10.4},{"s":4,"t":66,"v":9.6},{"s":4,"t":68,"v":10.0},{"s":4,"t":70,"v":9.4},{"s":4,"t":72,"v":9.8},{"s":4,"t":74,"v":9.2},{"s":4,"t":76,"v":10.1},{"s":4,"t":78,"v":9.5},{"s":4,"t":80,"v":10.8},{"s":4,"t":82,"v":9.3},{"s":4,"t":84,"v":9.9},{"s":4,"t":86,"v":9.6},{"s":4,"t":88,"v":10.2},{"s":4,"t":90,"v":9.4},{"s":4,"t":92,"v":9.8},{"s":4,"t":94,"v":10.3},{"s":4,"t":96,"v":9.5},{"s":4,"t":98,"v":11.0},{"s":4,"t":100,"v":9.3}
]
},
"vconcat": [
{"hconcat": [
 {"title": {"text": "A", "anchor": "start", "fontSize": 21, "font": "Open Sans", "color": "#111111", "offset": -18, "dx": 1, "frame": "bounds"},
  "resolve": {"scale": {"color": "independent"}, "legend": {"color": "independent"}},
  "vconcat": [{
   "width": 328, "height": 222,
   "title": {"text": "time vs hydrogen bonding distance, 1UH5, Tyr-HH and ligand O"},
   "data": {"name": "A"},
   "mark": {"type": "line", "strokeWidth": 1},
   "encoding": {
    "x": {"field": "t", "type": "quantitative", "scale": {"domain": [0, 140], "nice": false}, "axis": {"values": [0,20,40,60,80,100,120,140], "title": "simulation time [ns]"}},
    "y": {"field": "v", "type": "quantitative", "scale": {"domain": [1, 9], "nice": false, "zero": false}, "axis": {"values": [1,2,3,4,5,6,7,8,9], "title": "distance Tyr-HH and ligand O [A]", "titlePadding": 1}},
    "color": {"field": "s", "type": "nominal", "scale": {"domain": [1,2,3,4], "range": ["#e8343a", "#55ab3a", "#5aa5e0", "#a04c9c"]}, "legend": {"title": null, "legendX": 224, "legendY": 2, "labelExpr": "'pocket ' + datum.label", "encode": {"symbols": {"update": {"x": {"value": 63}}}, "labels": {"update": {"x": {"value": 41}, "align": {"value": "right"}}}}}}
   }
  }]
 },
 {"title": {"text": "B", "anchor": "start", "fontSize": 21, "font": "Open Sans", "color": "#111111", "offset": -18, "dx": 1, "frame": "bounds"},
  "resolve": {"scale": {"color": "independent"}, "legend": {"color": "independent"}},
  "vconcat": [{
   "width": 318, "height": 222,
   "title": {"text": "time vs hydrogen bonding distance, 1UH5, NAD-H64 and ligand O"},
   "data": {"name": "B"},
   "mark": {"type": "line", "strokeWidth": 1},
   "encoding": {
    "x": {"field": "t", "type": "quantitative", "scale": {"domain": [0, 140], "nice": false}, "axis": {"values": [0,20,40,60,80,100,120,140], "title": "simulation time [ns]"}},
    "y": {"field": "v", "type": "quantitative", "scale": {"domain": [1, 11], "nice": false, "zero": false}, "axis": {"values": [1,2,3,4,5,6,7,8,9,10,11], "title": "distance NAD H64 and ligand O [A]"}},
    "color": {"field": "s", "type": "nominal", "scale": {"domain": [1,2,3,4], "range": ["#e8343a", "#55ab3a", "#5aa5e0", "#a04c9c"]}, "legend": {"title": null, "legendX": 220, "legendY": 2, "labelExpr": "'pocket ' + datum.label", "encode": {"symbols": {"update": {"x": {"value": 63}}}, "labels": {"update": {"x": {"value": 41}, "align": {"value": "right"}}}}}}
   }
  }]
 }
], "spacing": 63, "resolve": {"scale": {"color": "independent"}, "legend": {"color": "independent"}}},
{"hconcat": [
 {"title": {"text": "C", "anchor": "start", "fontSize": 21, "font": "Open Sans", "color": "#111111", "offset": -18, "dx": 1, "frame": "bounds"},
  "resolve": {"scale": {"color": "independent"}, "legend": {"color": "independent"}},
  "vconcat": [{
   "width": 327, "height": 223,
   "title": {"text": "time vs hydrogen bonding distance, 3LT0, Tyr-HH and ligand O"},
   "data": {"name": "C"},
   "mark": {"type": "line", "strokeWidth": 1},
   "encoding": {
    "x": {"field": "t", "type": "quantitative", "scale": {"domain": [0, 100], "nice": false}, "axis": {"values": [0,10,20,30,40,50,60,70,80,90,100], "title": "simulation time [ns]"}},
    "y": {"field": "v", "type": "quantitative", "scale": {"domain": [1, 7], "nice": false, "zero": false}, "axis": {"values": [1,2,3,4,5,6,7], "title": "distance Tyr-HH and ligand O [A]", "titlePadding": 1}},
    "color": {"field": "s", "type": "nominal", "scale": {"domain": [1,2,3,4], "range": ["#e8343a", "#55ab3a", "#5aa5e0", "#a04c9c"]}, "legend": {"title": null, "legendX": 223, "legendY": 2, "labelExpr": "'pocket ' + datum.label", "encode": {"symbols": {"update": {"x": {"value": 63}}}, "labels": {"update": {"x": {"value": 41}, "align": {"value": "right"}}}}}}
   }
  }]
 },
 {"title": {"text": "D", "anchor": "start", "fontSize": 21, "font": "Open Sans", "color": "#111111", "offset": -18, "dx": 1, "frame": "bounds"},
  "resolve": {"scale": {"color": "independent"}, "legend": {"color": "independent"}},
  "vconcat": [{
   "width": 322, "height": 222,
   "title": {"text": "time vs hydrogen bonding distance, 3LT0, NAD-H64 and ligand O"},
   "data": {"name": "D"},
   "mark": {"type": "line", "strokeWidth": 1},
   "encoding": {
    "x": {"field": "t", "type": "quantitative", "scale": {"domain": [0, 100], "nice": false}, "axis": {"values": [0,10,20,30,40,50,60,70,80,90,100], "title": "simulation time [ns]"}},
    "y": {"field": "v", "type": "quantitative", "scale": {"domain": [1, 12], "nice": false, "zero": false}, "axis": {"values": [1,2,3,4,5,6,7,8,9,10,11,12], "title": "distance NAD H64 and ligand O [A]"}},
    "color": {"field": "s", "type": "nominal", "scale": {"domain": [1,2,3,4], "range": ["#e8343a", "#55ab3a", "#5aa5e0", "#a04c9c"]}, "legend": {"title": null, "legendX": 219, "legendY": 2, "labelExpr": "'pocket ' + datum.label", "encode": {"symbols": {"update": {"x": {"value": 63}}}, "labels": {"update": {"x": {"value": 41}, "align": {"value": "right"}}}}}}
   }
  }]
 }
], "spacing": 54, "resolve": {"scale": {"color": "independent"}, "legend": {"color": "independent"}}},
{"hconcat": [
 {"title": {"text": "E", "anchor": "start", "fontSize": 21, "font": "Open Sans", "color": "#111111", "offset": -8, "dx": 1, "frame": "bounds"},
  "resolve": {"scale": {"color": "independent"}, "legend": {"color": "independent"}},
  "vconcat": [{
   "width": 320, "height": 222,
   "title": {"text": "time vs hydrogen bonding distance, 3LSY, Tyr-HH and ligand O"},
   "data": {"name": "E"},
   "mark": {"type": "line", "strokeWidth": 1},
   "encoding": {
    "x": {"field": "t", "type": "quantitative", "scale": {"domain": [0, 100], "nice": false}, "axis": {"values": [0,10,20,30,40,50,60,70,80,90,100], "title": "simulation time [ns]"}},
    "y": {"field": "v", "type": "quantitative", "scale": {"domain": [1, 10], "nice": false, "zero": false}, "axis": {"values": [1,2,3,4,5,6,7,8,9,10], "title": "distance Tyr-HH and ligand O [A]", "titlePadding": 14}},
    "color": {"field": "s", "type": "nominal", "scale": {"domain": [1,2,3,4], "range": ["#e8343a", "#55ab3a", "#5aa5e0", "#a04c9c"]}, "legend": {"title": null, "legendX": 216, "legendY": 2, "labelExpr": "'pocket ' + datum.label", "encode": {"symbols": {"update": {"x": {"value": 63}}}, "labels": {"update": {"x": {"value": 41}, "align": {"value": "right"}}}}}}
   }
  }]
 },
 {"title": {"text": "F", "anchor": "start", "fontSize": 21, "font": "Open Sans", "color": "#111111", "offset": -8, "dx": 1, "frame": "bounds"},
  "resolve": {"scale": {"color": "independent"}, "legend": {"color": "independent"}},
  "vconcat": [{
   "width": 320, "height": 222,
   "title": {"text": "time vs hydrogen bonding distance, 3LSY, NAD-H64 and ligand O"},
   "data": {"name": "F"},
   "mark": {"type": "line", "strokeWidth": 1},
   "encoding": {
    "x": {"field": "t", "type": "quantitative", "scale": {"domain": [0, 100], "nice": false}, "axis": {"values": [0,10,20,30,40,50,60,70,80,90,100], "title": "simulation time [ns]"}},
    "y": {"field": "v", "type": "quantitative", "scale": {"domain": [0, 14], "nice": false, "zero": false}, "axis": {"values": [0,2,4,6,8,10,12,14], "title": "distance NAD H64 and ligand O [A]"}},
    "color": {"field": "s", "type": "nominal", "scale": {"domain": [1,2,3,4], "range": ["#e8343a", "#55ab3a", "#5aa5e0", "#a04c9c"]}, "legend": {"title": null, "legendX": 217, "legendY": 2, "labelExpr": "'pocket ' + datum.label", "encode": {"symbols": {"update": {"x": {"value": 63}}}, "labels": {"update": {"x": {"value": 41}, "align": {"value": "right"}}}}}}
   }
  }]
 }
], "spacing": 62, "resolve": {"scale": {"color": "independent"}, "legend": {"color": "independent"}}}
]
}
